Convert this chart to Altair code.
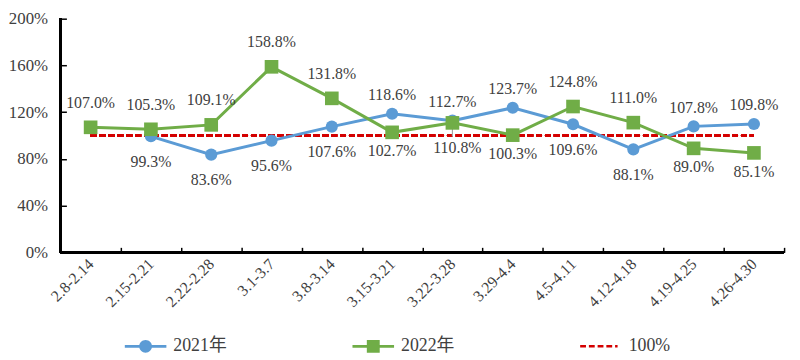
import altair as alt
import pandas as pd

weeks = ["2.8-2.14", "2.15-2.21", "2.22-2.28", "3.1-3.7", "3.8-3.14", "3.15-3.21",
         "3.22-3.28", "3.29-4.4", "4.5-4.11", "4.12-4.18", "4.19-4.25", "4.26-4.30"]
v2021 = [None, 99.3, 83.6, 95.6, 107.6, 118.6, 112.7, 123.7, 109.6, 88.1, 107.8, 109.8]
v2022 = [107.0, 105.3, 109.1, 158.8, 131.8, 102.7, 110.8, 100.3, 124.8, 111.0, 89.0, 85.1]
side2021 = [None, "below", "below", "below", "below", "above", "above", "above",
            "below", "below", "above", "above"]
side2022 = ["above", "above", "above", "above", "above", "below", "far", "below",
            "above", "above", "below", "below"]
series_names = ["2021年", "2022年", "100%"]
ref_value = 100
y_ticks = [0, 40, 80, 120, 160, 200]

BLUE = "#5B9BD5"
GREEN = "#70AD47"
RED = "#D40000"
TXT = "#404040"
FONT = "Liberation Serif, Times New Roman, Noto Sans CJK SC"

rows = []
for s, vals, sides in (("2021年", v2021, side2021), ("2022年", v2022, side2022)):
    for w, v, sd in zip(weeks, vals, sides):
        if v is None:
            continue
        rows.append({"week": w, "series": s, "value": v, "side": sd,
                     "label": f"{v:.1f}%"})
df = pd.DataFrame(rows)

W, H = 731, 236

x_enc = alt.X("week:N", sort=weeks, bandPosition=0.5,
              scale=alt.Scale(type="band", domain=weeks, paddingInner=0, paddingOuter=0),
              axis=alt.Axis(title=None, labelAngle=-45, labelFont=FONT, labelFontSize=16,
                            labelColor=TXT, tickBand="extent", tickSize=5, tickColor="black",
                            tickWidth=1.5, offset=-5, domain=False, labelPadding=9,
                            grid=False))
y_enc = alt.Y("value:Q", scale=alt.Scale(domain=[0, 200], nice=False),
              axis=alt.Axis(title=None, values=y_ticks, labelExpr="datum.value + '%'",
                            labelFont=FONT, labelFontSize=17, labelColor=TXT,
                            tickSize=6, tickColor="black", tickWidth=1.5, offset=-6,
                            domain=False, labelPadding=13, grid=False))

base = alt.Chart(df)

x_line = base.mark_rule(color="black", strokeWidth=2).encode(y=alt.Y(datum=0))
y_line = base.mark_rule(color="black", strokeWidth=2).encode(
    x=alt.value(0), y=alt.value(0), y2=alt.value(H))

ref_rule = base.mark_rule(color=RED, strokeWidth=2.5, strokeDash=[6, 3]).encode(
    x=alt.X(datum=weeks[0], bandPosition=0.5),
    x2=alt.X2(datum=weeks[-1]),
    y=alt.Y(datum=ref_value))


def text_layer(d, side, dy, dx=0):
    return d.transform_filter(alt.datum.side == side).mark_text(
        font=FONT, fontSize=16, color=TXT, dy=dy, dx=dx).encode(
        x=x_enc, y=y_enc, text="label:N")


def series_layers(name, color, shape, size, dy_above, dy_below):
    d = base.transform_filter(alt.datum.series == name)
    line = d.mark_line(color=color, strokeWidth=3).encode(x=x_enc, y=y_enc)
    pts = d.mark_point(shape=shape, filled=True, size=size, opacity=1, color=color).encode(
        x=x_enc, y=y_enc)
    out = [line, pts, text_layer(d, "above", dy_above), text_layer(d, "below", dy_below)]
    return out, d


p_circle = ("M-1,-0.07H-0.25V0.07H-1Z M0.25,-0.07H1V0.07H0.25Z "
            "M0.31,0A0.31,0.31 0 1,1 -0.31,0A0.31,0.31 0 1,1 0.31,0Z")
p_square = ("M-1,-0.07H-0.25V0.07H-1Z M0.25,-0.07H1V0.07H0.25Z "
            "M-0.31,-0.31H0.31V0.31H-0.31Z")
p_dash = ("M-1,-0.06H-0.72V0.06H-1Z M-0.58,-0.06H-0.3V0.06H-0.58Z "
          "M-0.16,-0.06H0.12V0.06H-0.16Z M0.26,-0.06H0.54V0.06H0.26Z "
          "M0.68,-0.06H0.8V0.06H0.68Z")

legend_layer = base.transform_filter("false").mark_point(filled=True, opacity=1).encode(
    x=x_enc, y=y_enc,
    color=alt.Color("series:N", scale=alt.Scale(domain=series_names, range=[BLUE, GREEN, RED]),
                    legend=alt.Legend(title=None, orient="none", legendX=64, legendY=309,
                                      direction="horizontal", columns=3, columnPadding=126,
                                      symbolSize=1764, labelFont=FONT, labelFontSize=18,
                                      labelColor=TXT, labelOffset=6)),
    shape=alt.Shape("series:N", scale=alt.Scale(domain=series_names,
                                                range=[p_circle, p_square, p_dash])),
)

blue_layers, d21 = series_layers("2021年", BLUE, "circle", 150, -19, 26)
green_layers, d22 = series_layers("2022年", GREEN, "square", 190, -25, 19)

leader = d22.transform_filter(alt.datum.side == "far").mark_rule(
    color="#A6A6A6", strokeWidth=1.2).encode(
    x=x_enc, y=y_enc, y2=alt.Y2(datum=99))

layers = [x_line, y_line, ref_rule, leader] + blue_layers + green_layers
layers += [text_layer(d22, "far", 25, 5), legend_layer]

chart = alt.layer(*layers).properties(
    width=W, height=H,
    autosize=alt.AutoSizeParams(type="none"),
    padding={"left": 53, "top": 9, "right": 8, "bottom": 107},
).configure_view(stroke=None)

chart.save("out.html", embed_options={"renderer": "svg", "actions": False})
